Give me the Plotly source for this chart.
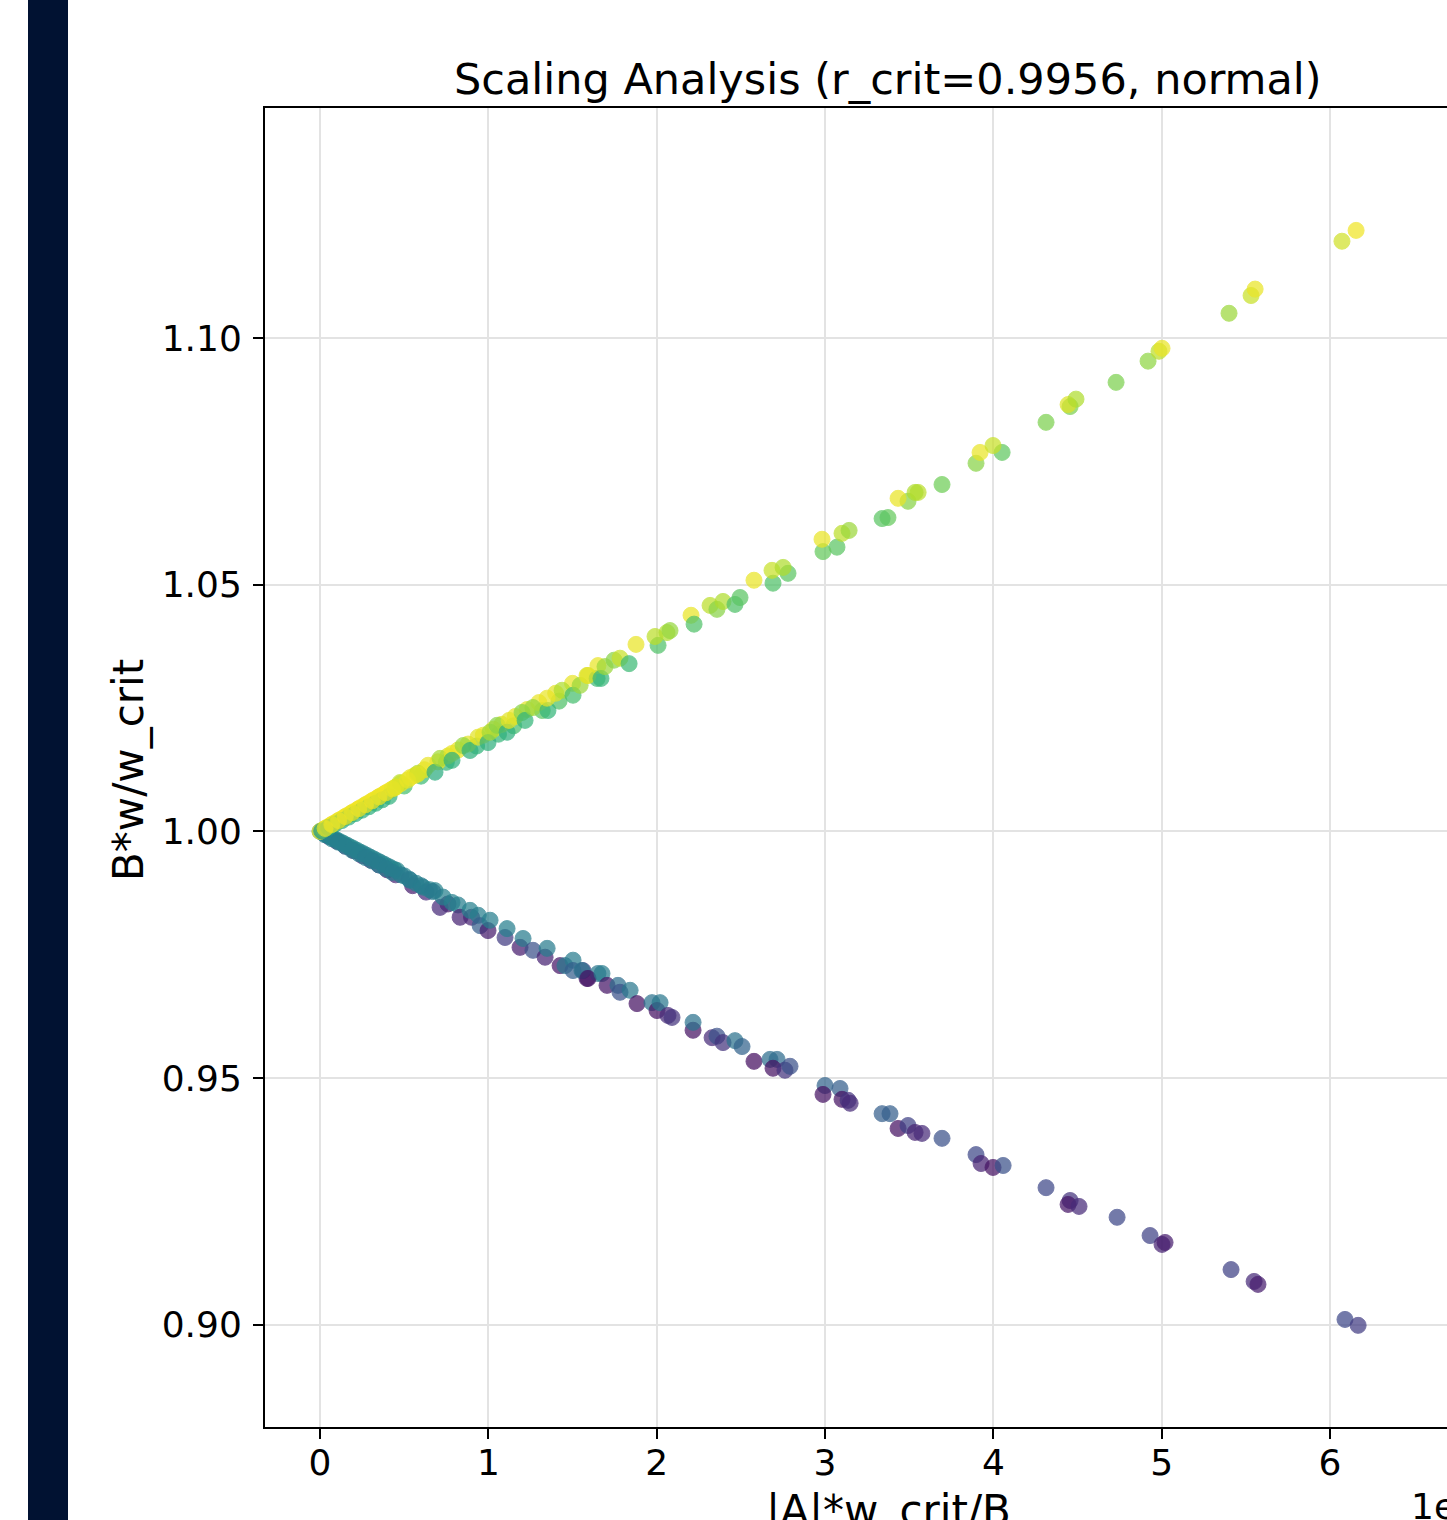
import plotly.graph_objects as go

# ---------------- data ----------------
# upper branch  (x, y, colour value on viridis 0..1)
up_x = [0.00, 0.02, 0.04, 0.06, 0.08, 0.10, 0.12, 0.14, 0.16, 0.18, 0.20, 0.22,
        0.24, 0.26, 0.28, 0.30, 0.32, 0.34, 0.36, 0.38, 0.40, 0.42,
        0.01, 0.05, 0.09, 0.13, 0.17, 0.21, 0.25, 0.29, 0.33, 0.37, 0.41,
        0.50, 0.60, 0.75, 0.93, 1.06, 1.15, 1.32, 1.42,
        0.48, 0.56, 0.62, 0.70, 0.76, 0.82, 0.88, 0.97, 1.03, 1.08, 1.16, 1.23, 1.30, 1.40, 1.50,
        0.446, 0.475, 0.535, 0.582, 0.642, 0.683, 0.713, 0.784, 0.784, 0.850, 0.891, 0.939,
        0.998, 1.010, 1.052, 1.111, 1.123, 1.200, 1.218, 1.265, 1.354, 1.349, 1.438, 1.503,
        1.545, 1.586, 1.646, 1.651,
        1.592, 1.669, 1.693, 1.747, 1.782, 1.836, 1.877, 2.008, 1.990, 2.061, 2.079, 2.204,
        2.222, 2.317, 2.358, 2.394, 2.465, 2.495, 2.578, 2.691, 2.685, 2.780, 2.751, 3.071,
        2.988, 2.982, 3.101, 3.143, 3.374, 3.339, 3.493, 3.434, 3.553, 3.535, 3.695, 3.897,
        4.052, 3.921, 3.998, 4.313, 4.456, 4.444, 4.491, 4.729, 4.919, 4.984, 5.002, 5.400,
        5.531, 5.555, 6.071, 6.155,
        0.03, 0.07, 0.11, 0.15, 0.19, 0.23, 0.27, 0.31, 0.35, 0.39, 0.43, 0.45, 0.52, 0.58]
up_y = [1.0000, 1.0004, 1.0008, 1.0012, 1.0016, 1.0020, 1.0024, 1.0028, 1.0032, 1.0036, 1.0040, 1.0044,
        1.0048, 1.0052, 1.0056, 1.0060, 1.0064, 1.0068, 1.0072, 1.0076, 1.0080, 1.0084,
        1.0001, 1.0008, 1.0015, 1.0022, 1.0029, 1.0036, 1.0043, 1.0050, 1.0057, 1.0064, 1.0071,
        1.0092, 1.0112, 1.0140, 1.0173, 1.0197, 1.0214, 1.0245, 1.0264,
        1.0097, 1.0113, 1.0125, 1.0141, 1.0153, 1.0165, 1.0177, 1.0195, 1.0207, 1.0217, 1.0233, 1.0247, 1.0261, 1.0280, 1.0300,
        1.0089, 1.0099, 1.0109, 1.0118, 1.0134, 1.0120, 1.0148, 1.0158, 1.0144, 1.0174, 1.0164, 1.0191,
        1.0180, 1.0201, 1.0215, 1.0201, 1.0225, 1.0241, 1.0225, 1.0251, 1.0245, 1.0270, 1.0286, 1.0276,
        1.0296, 1.0316, 1.0310, 1.0336,
        1.0316, 1.0310, 1.0334, 1.0347, 1.0351, 1.0340, 1.0379, 1.0377, 1.0395, 1.0403, 1.0407, 1.0438,
        1.0420, 1.0458, 1.0450, 1.0466, 1.0460, 1.0474, 1.0509, 1.0503, 1.0529, 1.0523, 1.0535, 1.0576,
        1.0567, 1.0592, 1.0604, 1.0610, 1.0636, 1.0634, 1.0669, 1.0675, 1.0687, 1.0687, 1.0703, 1.0746,
        1.0768, 1.0768, 1.0782, 1.0829, 1.0861, 1.0865, 1.0876, 1.0910, 1.0953, 1.0973, 1.0979, 1.1050,
        1.1086, 1.1099, 1.1196, 1.1218,
        1.0006, 1.0014, 1.0022, 1.0030, 1.0038, 1.0046, 1.0054, 1.0062, 1.0070, 1.0078, 1.0086, 1.0090, 1.0104, 1.0116]
up_c = [0.99, 0.99, 0.99, 0.99, 0.99, 0.99, 0.99, 0.99, 0.99, 0.99, 0.99, 0.99,
        0.99, 0.99, 0.99, 0.99, 0.99, 0.99, 0.99, 0.99, 0.99, 0.99,
        0.55, 0.58, 0.60, 0.60, 0.62, 0.62, 0.62, 0.63, 0.63, 0.63, 0.64,
        0.70, 0.68, 0.66, 0.65, 0.66, 0.70, 0.74, 0.72,
        0.97, 0.97, 0.96, 0.97, 0.95, 0.97, 0.96, 0.97, 0.96, 0.95, 0.97, 0.96, 0.97, 0.96, 0.97,
        0.97, 0.90, 0.97, 0.88, 0.97, 0.62, 0.86, 0.97, 0.64, 0.84, 0.64, 0.96,
        0.64, 0.86, 0.82, 0.64, 0.96, 0.82, 0.66, 0.84, 0.66, 0.97, 0.88, 0.70,
        0.85, 0.95, 0.68, 0.97,
        0.96, 0.66, 0.85, 0.82, 0.92, 0.68, 0.97, 0.72, 0.90, 0.88, 0.84, 0.97,
        0.72, 0.90, 0.82, 0.88, 0.72, 0.74, 0.97, 0.72, 0.92, 0.74, 0.88, 0.74,
        0.76, 0.97, 0.90, 0.85, 0.76, 0.74, 0.82, 0.97, 0.90, 0.88, 0.78, 0.82,
        0.75, 0.97, 0.92, 0.80, 0.80, 0.95, 0.88, 0.80, 0.83, 0.90, 0.97, 0.85,
        0.92, 0.97, 0.93, 0.98,
        0.97, 0.98, 0.97, 0.98, 0.97, 0.98, 0.97, 0.98, 0.97, 0.98, 0.97, 0.96, 0.97, 0.96]

# lower branch
lo_x = [0.05, 0.10, 0.15, 0.20, 0.25, 0.30, 0.35, 0.40, 0.45, 0.55, 0.63, 0.76, 0.90,
        0.00, 0.02, 0.04, 0.06, 0.08, 0.10, 0.12, 0.14, 0.16, 0.18, 0.20, 0.22,
        0.24, 0.26, 0.28, 0.30, 0.32, 0.34, 0.36, 0.38, 0.40, 0.42, 0.44,
        0.457, 0.50, 0.535, 0.57, 0.612, 0.65, 0.683, 0.713, 0.73, 0.784, 0.82, 0.832,
        0.891, 0.94, 0.951, 0.998, 1.010, 1.099, 1.111, 1.188, 1.206, 1.265, 1.337, 1.349,
        1.426, 1.503, 1.562, 1.586, 1.651,
        1.455, 1.503, 1.556, 1.592, 1.675, 1.705, 1.770, 1.782, 1.842, 1.883, 1.972, 2.002,
        2.020, 2.067, 2.091, 2.216, 2.216, 2.329, 2.358, 2.394, 2.465, 2.507, 2.578, 2.673,
        2.715, 2.691, 2.762, 2.792, 3.000, 2.988, 3.089, 3.101, 3.137, 3.149, 3.339, 3.386,
        3.434, 3.493, 3.535, 3.576, 3.695, 3.897, 3.927, 3.998, 4.058, 4.313, 4.456, 4.444,
        4.509, 4.735, 4.931, 5.002, 5.020, 5.412, 5.549, 5.572, 6.089, 6.167,
        0.03, 0.07, 0.11, 0.15, 0.19, 0.23, 0.27, 0.31, 0.35, 0.39, 0.43, 0.48, 0.53, 0.60, 0.67]
lo_y = [0.9990, 0.9980, 0.9970, 0.9961, 0.9951, 0.9942, 0.9932, 0.9922, 0.9912, 0.9890, 0.9877, 0.9853, 0.9826,
        1.0000, 0.99965, 0.9993, 0.99895, 0.9986, 0.99825, 0.9979, 0.99755, 0.9972, 0.99685, 0.9965, 0.99615,
        0.9958, 0.99545, 0.9951, 0.99475, 0.9944, 0.99405, 0.9937, 0.99335, 0.9930, 0.99265, 0.9923,
        0.9921, 0.9910, 0.9901, 0.9895, 0.9887, 0.9882, 0.9880, 0.9846, 0.9867, 0.9856, 0.9851, 0.9826,
        0.9840, 0.9830, 0.9809, 0.9799, 0.9820, 0.9785, 0.9803, 0.9765, 0.9783, 0.9759, 0.9745, 0.9763,
        0.9728, 0.9739, 0.9718, 0.9702, 0.9712,
        0.9728, 0.9718, 0.9718, 0.9702, 0.9712, 0.9688, 0.9688, 0.9674, 0.9678, 0.9651, 0.9653, 0.9637,
        0.9653, 0.9627, 0.9623, 0.9597, 0.9613, 0.9582, 0.9585, 0.9572, 0.9576, 0.9564, 0.9534, 0.9538,
        0.9538, 0.9520, 0.9516, 0.9524, 0.9485, 0.9467, 0.9479, 0.9457, 0.9455, 0.9449, 0.9428, 0.9428,
        0.9398, 0.9404, 0.9390, 0.9388, 0.9378, 0.9345, 0.9327, 0.9319, 0.9323, 0.9278, 0.9252, 0.9244,
        0.9240, 0.9218, 0.9181, 0.9163, 0.9167, 0.9112, 0.9088, 0.9082, 0.9011, 0.8999,
        0.9993, 0.9985, 0.9978, 0.9970, 0.9962, 0.9955, 0.9947, 0.9940, 0.9932, 0.9925, 0.9917, 0.9912, 0.9903, 0.9890, 0.9878]
lo_c = [0.10, 0.08, 0.12, 0.06, 0.10, 0.08, 0.12, 0.06, 0.10, 0.08, 0.12, 0.06, 0.10,
        0.48, 0.48, 0.47, 0.47, 0.47, 0.47, 0.46, 0.46, 0.46, 0.46, 0.46, 0.46,
        0.46, 0.45, 0.45, 0.45, 0.45, 0.45, 0.45, 0.45, 0.45, 0.45, 0.45,
        0.46, 0.45, 0.45, 0.44, 0.45, 0.44, 0.45, 0.12, 0.44, 0.44, 0.43, 0.10,
        0.44, 0.43, 0.30, 0.08, 0.43, 0.18, 0.43, 0.08, 0.42, 0.25, 0.10, 0.42,
        0.06, 0.42, 0.20, 0.05, 0.40,
        0.40, 0.30, 0.38, 0.06, 0.42, 0.06, 0.36, 0.25, 0.40, 0.05, 0.38, 0.05,
        0.40, 0.12, 0.15, 0.05, 0.38, 0.12, 0.25, 0.15, 0.38, 0.32, 0.04, 0.36,
        0.35, 0.05, 0.15, 0.25, 0.32, 0.05, 0.30, 0.05, 0.15, 0.12, 0.30, 0.30,
        0.05, 0.20, 0.10, 0.12, 0.25, 0.22, 0.10, 0.05, 0.25, 0.22, 0.15, 0.06,
        0.12, 0.22, 0.20, 0.10, 0.08, 0.20, 0.12, 0.08, 0.22, 0.18,
        0.44, 0.44, 0.43, 0.43, 0.43, 0.43, 0.42, 0.42, 0.42, 0.42, 0.42, 0.42, 0.41, 0.42, 0.41]

x_ticks = [0, 1, 2, 3, 4, 5, 6]
y_ticks = [0.90, 0.95, 1.00, 1.05, 1.10]
title_text = "Scaling Analysis (r_crit=0.9956, normal)"
x_title = "|A|*w_crit/B"
y_title = "B*w/w_crit"
offset_text = "1e\u22125"

FONT = "DejaVu Sans"

fig = go.Figure()
for xs, ys, cs in [(lo_x, lo_y, lo_c), (up_x, up_y, up_c)]:
    fig.add_trace(go.Scatter(
        x=xs, y=ys, mode="markers", showlegend=False, hoverinfo="skip",
        marker=dict(size=16, color=cs, colorscale="Viridis", cmin=0, cmax=1,
                    opacity=0.72,
                    line=dict(width=1, color=cs, colorscale="Viridis", cmin=0, cmax=1)),
    ))

# the page body margin is removed in post_script, so figure pixels == page pixels
W, H = 1447, 1520
L, T, R = 265, 108, 0
B = H - 1427
pw, ph = W - L - R, H - T - B


def px(x):
    return (x - L) / pw


def py(y):
    return (H - B - y) / ph


fig.update_layout(
    width=W, height=H,
    margin=dict(l=L, r=R, t=T, b=B, pad=0),
    paper_bgcolor="white", plot_bgcolor="white",
    font=dict(family=FONT, size=36, color="black"),
    xaxis=dict(range=[-0.327, 6.695], tickvals=x_ticks, ticktext=[str(v) for v in x_ticks],
               showgrid=True, gridcolor="#e3e3e3", gridwidth=1.5, zeroline=False,
               showline=True, linecolor="black", linewidth=2, mirror=True,
               ticks="outside", ticklen=10, tickwidth=2, tickcolor="black",
               tickfont=dict(family=FONT, size=36, color="black"), ticklabelstandoff=-7),
    yaxis=dict(range=[0.8793, 1.1466], tickvals=y_ticks, ticktext=[f"{v:.2f}" for v in y_ticks],
               showgrid=True, gridcolor="#e3e3e3", gridwidth=1.5, zeroline=False,
               showline=True, linecolor="black", linewidth=2, mirror=False,
               ticks="outside", ticklen=10, tickwidth=2, tickcolor="black",
               tickfont=dict(family=FONT, size=36, color="black"), ticklabelstandoff=4),
    shapes=[dict(type="rect", xref="paper", yref="paper",
                 x0=px(28), x1=px(68), y0=py(1540), y1=py(-20),
                 fillcolor="#011232", line=dict(width=0), layer="above")],
    annotations=[
        dict(text=title_text, xref="paper", yref="paper", x=px(888), y=py(52),
             xanchor="center", yanchor="top", showarrow=False,
             font=dict(family=FONT, size=43, color="black")),
        dict(text=y_title, xref="paper", yref="paper", x=px(128), y=py(770),
             xanchor="center", yanchor="middle", textangle=-90, showarrow=False,
             font=dict(family=FONT, size=42, color="black")),
        dict(text=x_title, xref="paper", yref="paper", x=px(888), y=py(1484),
             xanchor="center", yanchor="top", showarrow=False,
             font=dict(family=FONT, size=42, color="black")),
        dict(text=offset_text, xref="paper", yref="paper", x=px(1511), y=py(1484),
             xanchor="right", yanchor="top", showarrow=False,
             font=dict(family=FONT, size=36, color="black")),
    ],
)

fig.write_html(
    "out.html",
    config={"displayModeBar": False},
    post_script="document.body.style.margin='0';document.body.style.overflow='hidden';",
)
